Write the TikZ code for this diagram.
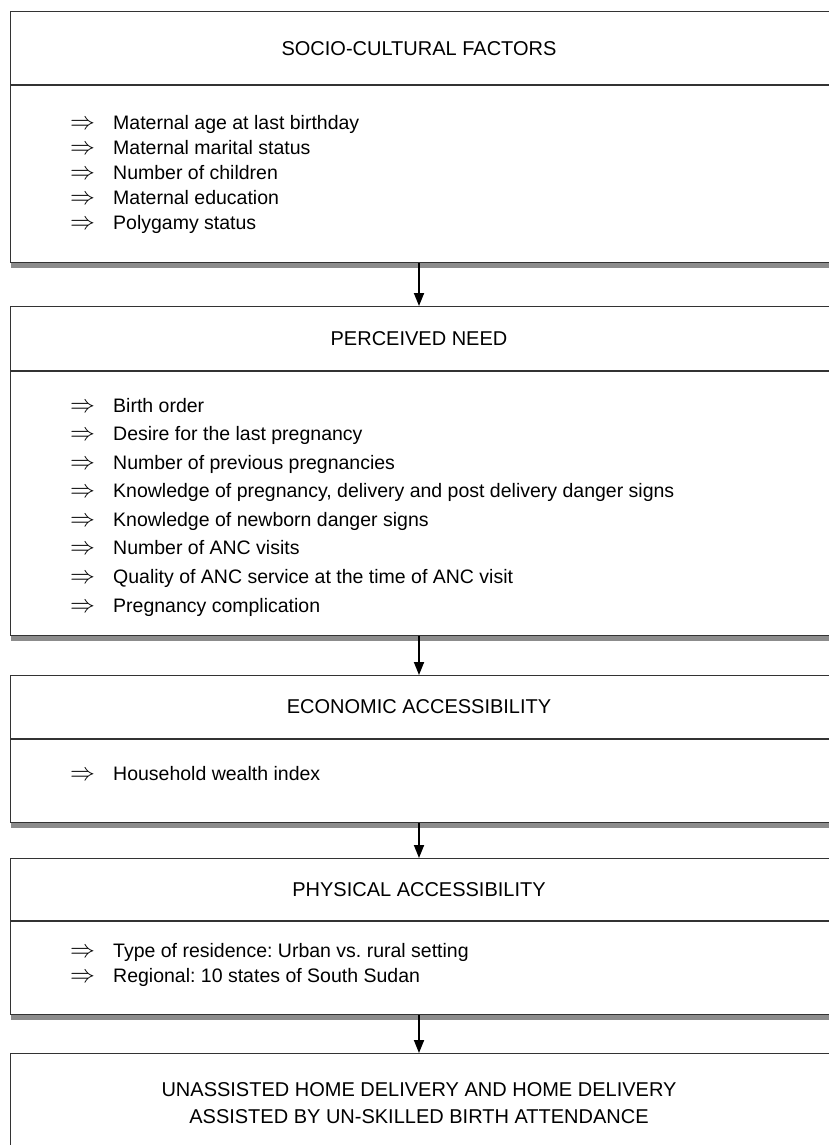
\documentclass[tikz,border=0pt]{standalone}
\usepackage{fontspec}
\setmainfont{Liberation Sans}
\usetikzlibrary{arrows.meta,shadows}
\frenchspacing
\begin{document}
\begin{tikzpicture}[x=1pt,y=-1pt,
  fbox/.style={draw=black!80, line width=1.3pt, fill=white, inner sep=0pt, anchor=north west,
    minimum width=830pt,
    drop shadow={shadow xshift=0.5pt, shadow yshift=-5pt, fill=black!45, opacity=1}},
  sepline/.style={draw=black!80, line width=1.3pt},
  ttl/.style={font=\fontsize{20}{27}\selectfont, inner sep=0pt, align=center},
  item/.style={font=\fontsize{19.5}{23}\selectfont, inner sep=0pt, anchor=base west},
  arr/.style={line width=1.8pt, -{Triangle[width=10pt,length=13pt]}},
]
\clip (0,0) rectangle (829,1145);
\fill[white] (0,0) rectangle (829,1145);
\newcommand{\itm}[1]{\makebox[43pt][l]{\fontsize{23}{23}\selectfont$\Rightarrow$}#1}
\coordinate (ax) at (419,0);

% boxes
\node[fbox, minimum height=251pt] (b1) at (10,11) {};
\node[fbox, minimum height=329pt] (b2) at (10,306) {};
\node[fbox, minimum height=147pt] (b3) at (10,675) {};
\node[fbox, minimum height=156pt] (b4) at (10,858) {};
\node[fbox, minimum height=140pt] (b5) at (10,1053) {};

% separators
\coordinate (s1) at (0,85);
\coordinate (s2) at (0,371);
\coordinate (s3) at (0,739);
\coordinate (s4) at (0,921);
\draw[sepline] (b1.west |- s1) -- (b1.east |- s1);
\draw[sepline] (b2.west |- s2) -- (b2.east |- s2);
\draw[sepline] (b3.west |- s3) -- (b3.east |- s3);
\draw[sepline] (b4.west |- s4) -- (b4.east |- s4);

% titles
\node[ttl] (t1) at (419,49) {SOCIO-CULTURAL FACTORS};
\node[ttl] (t2) at (419,339) {PERCEIVED NEED};
\node[ttl] (t3) at (419,707) {ECONOMIC ACCESSIBILITY};
\node[ttl] (t4) at (419,889.5) {PHYSICAL ACCESSIBILITY};
\node[ttl] (t5) at (419,1103.5) {UNASSISTED HOME DELIVERY AND HOME DELIVERY\\ASSISTED BY UN-SKILLED BIRTH ATTENDANCE};

% items box 1
\node[item] (i11) at (70,129) {\itm{Maternal age at last birthday}};
\node[item] (i12) at (70,154) {\itm{Maternal marital status}};
\node[item] (i13) at (70,179) {\itm{Number of children}};
\node[item] (i14) at (70,204) {\itm{Maternal education}};
\node[item] (i15) at (70,229) {\itm{Polygamy status}};

% items box 2
\node[item] (i21) at (70,412) {\itm{Birth order}};
\node[item] (i22) at (70,440.6) {\itm{Desire for the last pregnancy}};
\node[item] (i23) at (70,469.1) {\itm{Number of previous pregnancies}};
\node[item] (i24) at (70,497.7) {\itm{Knowledge of pregnancy, delivery and post delivery danger signs}};
\node[item] (i25) at (70,526.3) {\itm{Knowledge of newborn danger signs}};
\node[item] (i26) at (70,554.9) {\itm{Number of ANC visits}};
\node[item] (i27) at (70,583.4) {\itm{Quality of ANC service at the time of ANC visit}};
\node[item] (i28) at (70,612) {\itm{Pregnancy complication}};

% items box 3
\node[item] (i31) at (70,780) {\itm{Household wealth index}};

% items box 4
\node[item] (i41) at (70,957) {\itm{Type of residence: Urban vs. rural setting}};
\node[item] (i42) at (70,982) {\itm{Regional: 10 states of South Sudan}};

% arrows
\draw[arr] (b1.south -| ax) -- (b2.north -| ax);
\draw[arr] (b2.south -| ax) -- (b3.north -| ax);
\draw[arr] (b3.south -| ax) -- (b4.north -| ax);
\draw[arr] (b4.south -| ax) -- (b5.north -| ax);
\end{tikzpicture}
\end{document}
